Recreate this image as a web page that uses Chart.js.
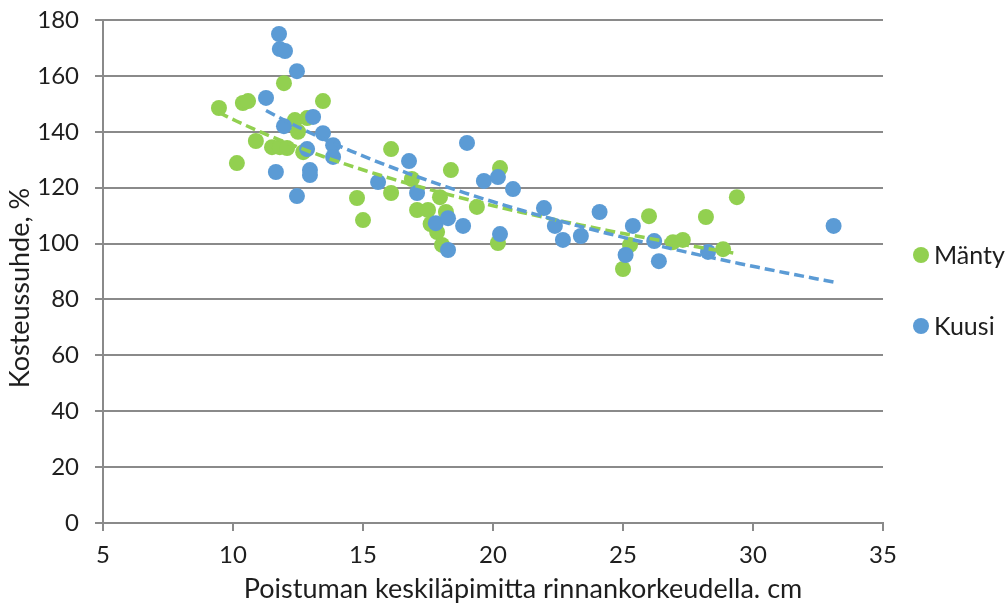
<!DOCTYPE html>
<html>
<head>
<meta charset="utf-8">
<script src="https://cdn.jsdelivr.net/npm/chart.js@4.4.1/dist/chart.umd.min.js"></script>
<style>
  html, body { margin: 0; padding: 0; background: #ffffff; }
  #wrap { width: 1006px; height: 606px; }
</style>
</head>
<body>
<div id="wrap"><canvas id="c" width="1006" height="606"></canvas></div>
<script>
// Männyn (Mänty) mittaukset: läpimitta cm, kosteussuhde %
const mantyX = [9.46, 10.15, 10.38, 10.58, 10.88, 11.5, 11.8, 11.96, 12.08, 12.38, 12.5, 12.7, 12.85, 13.46,
                14.77, 15.0, 16.08, 16.08, 16.88, 17.08, 17.5, 17.6, 17.85, 17.96, 18.04, 18.19, 18.38,
                19.38, 20.19, 20.27, 25.0, 25.27, 26.0, 26.92, 27.3, 28.19, 28.85, 29.38];
const mantyY = [148.5, 128.8, 150.3, 151.0, 136.7, 134.5, 134.5, 157.4, 134.2, 144.2, 140.0, 132.7, 144.9, 151.0,
                116.3, 108.4, 133.8, 118.1, 123.1, 112.0, 112.0, 107.0, 104.1, 116.6, 99.5, 111.3, 126.3,
                113.1, 100.2, 127.0, 90.9, 99.5, 109.8, 100.5, 101.3, 109.5, 98.0, 116.6];

// Kuusen (Kuusi) mittaukset
const kuusiX = [11.27, 11.65, 11.77, 11.8, 11.96, 12.0, 12.46, 12.46, 12.85, 12.96, 12.96, 13.08, 13.46, 13.85,
                13.85, 15.58, 16.77, 17.08, 17.8, 18.27, 18.27, 18.85, 19.0, 19.65, 20.19, 20.27, 20.77,
                21.96, 22.38, 22.69, 23.38, 24.1, 25.1, 25.38, 26.2, 26.38, 28.27, 33.1];
const kuusiY = [152.1, 125.6, 175.0, 169.6, 142.0, 168.9, 161.7, 117.0, 133.8, 126.3, 124.5, 145.3, 139.5, 135.2,
                131.0, 122.0, 129.5, 118.1, 107.3, 109.1, 97.7, 106.3, 136.0, 122.4, 123.8, 103.4, 119.5,
                112.7, 106.3, 101.3, 102.7, 111.3, 95.9, 106.3, 100.9, 93.7, 97.0, 106.3];

const seriesNames = ['Mänty', 'Kuusi'];
const seriesColors = ['#92D050', '#5B9BD5'];

// Akselit
const xMin = 5, xMax = 35, xStep = 5;
const yMin = 0, yMax = 180, yStep = 20;
const xTitle = 'Poistuman keskiläpimitta rinnankorkeudella. cm';
const yTitle = 'Kosteussuhde, %';

const FONT = 'Lato, "Open Sans", sans-serif';
const TEXT = '#1e1e1e';

function toPoints(xs, ys) { return xs.map((x, i) => ({ x: x, y: ys[i] })); }

// Logaritminen trendiviiva y = a + b ln x (pienimmän neliösumman sovitus)
function logTrend(xs, ys, steps) {
  const n = xs.length;
  let sl = 0, sy = 0, sll = 0, sly = 0;
  for (let i = 0; i < n; i++) {
    const l = Math.log(xs[i]);
    sl += l; sy += ys[i]; sll += l * l; sly += l * ys[i];
  }
  const b = (n * sly - sl * sy) / (n * sll - sl * sl);
  const a = (sy - b * sl) / n;
  const lo = Math.min(...xs), hi = Math.max(...xs);
  const pts = [];
  for (let k = 0; k <= steps; k++) {
    const x = lo + (hi - lo) * k / steps;
    pts.push({ x: x, y: a + b * Math.log(x) });
  }
  return pts;
}

// Akselien otsikot ja oikean reunan selite
const chartText = {
  id: 'chartText',
  afterDraw(chart) {
    const ctx = chart.ctx;
    ctx.save();
    ctx.fillStyle = TEXT;
    ctx.font = '27px ' + FONT;
    ctx.textAlign = 'center';
    ctx.textBaseline = 'middle';
    ctx.fillText(xTitle, 523, 589);
    ctx.save();
    ctx.translate(20, 288);
    ctx.rotate(-Math.PI / 2);
    ctx.fillText(yTitle, 0, 0);
    ctx.restore();

    const rows = [255, 326];
    ctx.font = '25px ' + FONT;
    ctx.textAlign = 'left';
    seriesNames.forEach((name, i) => {
      ctx.beginPath();
      ctx.fillStyle = seriesColors[i];
      ctx.arc(921, rows[i], 8, 0, Math.PI * 2);
      ctx.fill();
      ctx.fillStyle = TEXT;
      ctx.fillText(name, 934, rows[i] + 1);
    });
    ctx.restore();
  }
};

const gridGray = '#8a8a8a';

new Chart(document.getElementById('c'), {
  type: 'scatter',
  data: {
    datasets: [
      { label: seriesNames[0] + ' trendi', type: 'line', data: logTrend(mantyX, mantyY, 60),
        borderColor: seriesColors[0], borderWidth: 3.5, borderDash: [10, 5], pointRadius: 0,
        fill: false, tension: 0, order: 1 },
      { label: seriesNames[1] + ' trendi', type: 'line', data: logTrend(kuusiX, kuusiY, 60),
        borderColor: seriesColors[1], borderWidth: 3.5, borderDash: [10, 5], pointRadius: 0,
        fill: false, tension: 0, order: 0 },
      { label: seriesNames[0], data: toPoints(mantyX, mantyY), backgroundColor: seriesColors[0],
        borderColor: seriesColors[0], borderWidth: 0, pointRadius: 8, order: 3 },
      { label: seriesNames[1], data: toPoints(kuusiX, kuusiY), backgroundColor: seriesColors[1],
        borderColor: seriesColors[1], borderWidth: 0, pointRadius: 8, order: 2 }
    ]
  },
  options: {
    responsive: false,
    animation: false,
    layout: { padding: { top: 20, right: 123, left: 0, bottom: 0 } },
    plugins: { legend: { display: false }, tooltip: { enabled: false } },
    scales: {
      x: {
        type: 'linear', min: xMin, max: xMax,
        ticks: { stepSize: xStep, color: TEXT, font: { family: FONT, size: 24 }, padding: 10 },
        grid: { drawOnChartArea: false, drawTicks: true, tickLength: 8, color: gridGray, lineWidth: 2 },
        border: { display: true, color: gridGray, width: 2 },
        title: { display: false },
        afterFit(scale) { scale.height = 83; scale.paddingLeft = 0; scale.paddingRight = 0; }
      },
      y: {
        type: 'linear', min: yMin, max: yMax,
        ticks: { stepSize: yStep, color: TEXT, font: { family: FONT, size: 24 }, padding: 16 },
        grid: { drawOnChartArea: true, drawTicks: true, tickLength: 8, color: gridGray, lineWidth: 2 },
        border: { display: true, color: gridGray, width: 2 },
        title: { display: false },
        afterFit(scale) { scale.width = 103; scale.paddingTop = 0; scale.paddingBottom = 0; }
      }
    }
  },
  plugins: [chartText]
});
</script>
</body>
</html>
